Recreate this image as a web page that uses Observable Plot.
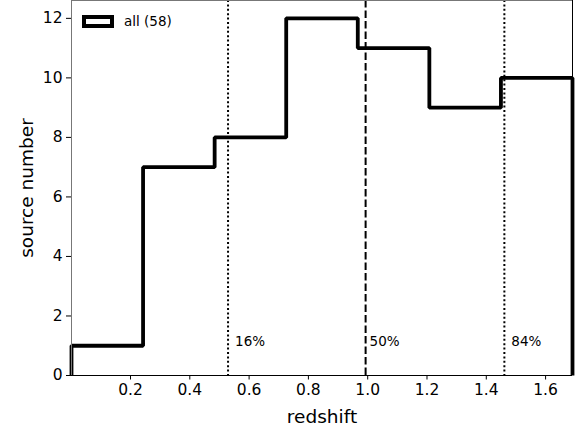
<!DOCTYPE html>
<html><head><meta charset="utf-8">
<script src="https://cdn.jsdelivr.net/npm/d3@7"></script>
<script src="https://cdn.jsdelivr.net/npm/@observablehq/plot@0.6"></script>
<style>
body{margin:0;background:#fff;}
#wrap{position:relative;width:579px;height:430px;font-family:"DejaVu Sans",sans-serif;}
#wrap svg{position:absolute;left:0;top:0;}
#legend{position:absolute;left:82px;top:13px;display:flex;align-items:center;font-size:13.5px;z-index:2;color:#000;}
#legend .sw{width:24px;height:5px;border:4px solid #000;background:#fff;margin-right:10px;}
</style></head><body>
<div id="wrap"><div id="legend"><div class="sw"></div><span id="legtext"></span></div></div>
<script>
const binEdges = [0.001, 0.2424, 0.4838, 0.7252, 0.9666, 1.208, 1.4494, 1.6908];
const counts = [1, 7, 8, 12, 11, 9, 10];
const percentiles = [0.529, 0.993, 1.461];
const percentileLabels = ["16%", "50%", "84%"];
const percentileStyles = ["dotted", "dashed", "dotted"];
const xTicks = [0.2, 0.4, 0.6, 0.8, 1.0, 1.2, 1.4, 1.6];
const yTicks = [0, 2, 4, 6, 8, 10, 12];
const xDomain = [binEdges[0], binEdges[binEdges.length - 1]];
const yDomain = [0, 12.6];
const legendLabel = "all (58)";
const xLabel = "redshift";
const yLabel = "source number";
const labelY = 1;

document.getElementById("legtext").textContent = legendLabel;

// step outline of histogram
const steps = [{x: binEdges[0], y: 0}];
counts.forEach((c, i) => {
  steps.push({x: binEdges[i], y: c});
  steps.push({x: binEdges[i + 1], y: c});
});
steps.push({x: binEdges[binEdges.length - 1], y: 0});

const pct = percentiles.map((p, i) => ({x: p, label: percentileLabels[i], style: percentileStyles[i]}));

const chart = Plot.plot({
  width: 579,
  height: 430,
  marginLeft: 71,
  marginRight: 7,
  marginTop: 0,
  marginBottom: 55,
  style: {fontFamily: "DejaVu Sans, sans-serif", background: "white", color: "black", overflow: "visible"},
  x: {domain: xDomain, ticks: xTicks, tickFormat: d => d.toFixed(1)},
  y: {domain: yDomain, ticks: yTicks},
  marks: [
    Plot.line(steps, {x: "x", y: "y", stroke: "black", strokeWidth: 3.8, strokeLinejoin: "miter", strokeLinecap: "butt"}),
    Plot.ruleX(pct.filter(d => d.style === "dotted"), {x: "x", stroke: "black", strokeWidth: 2, strokeDasharray: "2,2.4"}),
    Plot.ruleX(pct.filter(d => d.style === "dashed"), {x: "x", stroke: "black", strokeWidth: 2, strokeDasharray: "7.5,3"}),
    Plot.text(pct.filter(d => d.label !== "50%"), {x: "x", y: () => labelY, text: "label", textAnchor: "start", lineAnchor: "bottom", dx: 7, dy: 0, fontSize: 13.5, fill: "black"}),
    Plot.text(pct.filter(d => d.label === "50%"), {x: "x", y: () => labelY, text: "label", textAnchor: "start", lineAnchor: "bottom", dx: 4, dy: 0, fontSize: 13.5, fill: "black"}),
    Plot.ruleX([xDomain[0]], {stroke: "#777", strokeWidth: 1}),
    Plot.ruleX([xDomain[1]], {stroke: "black", strokeWidth: 1}),
    Plot.ruleY([yDomain[1]], {stroke: "#777", strokeWidth: 1}),
    Plot.ruleY([yDomain[0]], {stroke: "black", strokeWidth: 1}),
    Plot.axisX({ticks: xTicks, tickFormat: d => d.toFixed(1), tickSize: 4.5, tickPadding: 4, fontSize: 15.5, label: null, stroke: "black"}),
    Plot.axisY({ticks: yTicks, tickSize: 5, tickPadding: 4, fontSize: 15.5, label: null, stroke: "black"}),
    Plot.text([xLabel], {frameAnchor: "bottom", text: d => d, dy: 42, textAnchor: "middle", lineAnchor: "middle", fontSize: 18.5, fill: "black"}),
    Plot.text([yLabel], {frameAnchor: "left", text: d => d, dx: -44, rotate: -90, textAnchor: "middle", lineAnchor: "middle", fontSize: 18.5, fill: "black"})
  ]
});
document.getElementById("wrap").appendChild(chart);
</script>
</body></html>
